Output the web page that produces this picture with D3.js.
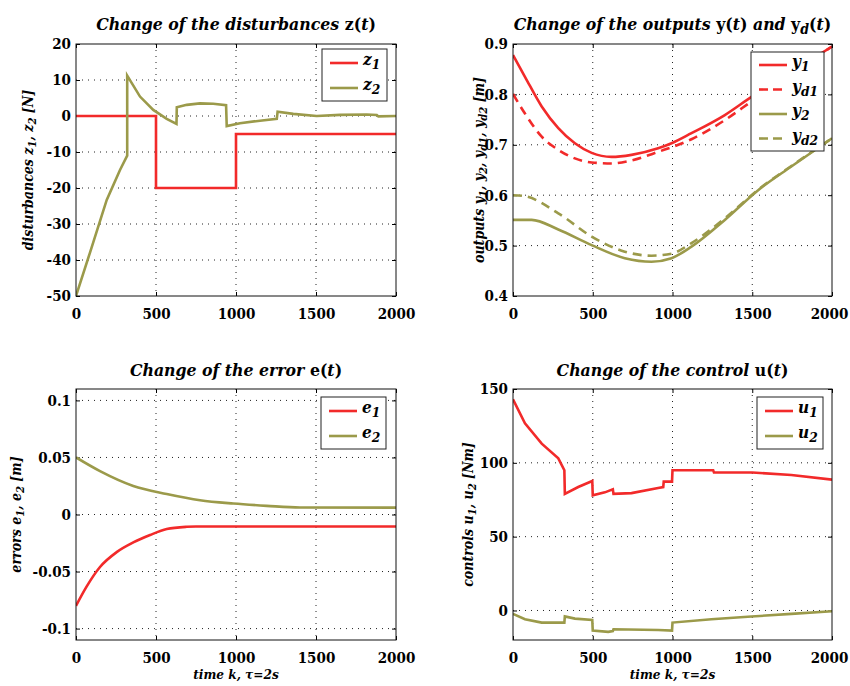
<!DOCTYPE html>
<html>
<head>
<meta charset="utf-8">
<script src="https://cdn.jsdelivr.net/npm/d3@7"></script>
<style>
  body { margin: 0; background: #fff; }
  svg { display: block; }
  svg text { fill: #000; }
  .tick-lbl { font-size: 15px; font-weight: bold; }
  .title { font-size: 17.5px; font-style: italic; font-weight: bold; }
  .ylab { font-size: 14px; font-style: italic; font-weight: bold; }
  .xlab { font-size: 13.5px; font-style: italic; font-weight: bold; }
  .leg { font-size: 17px; font-style: italic; font-weight: bold; }
</style>
</head>
<body>
<div id="chart"></div>
<script>
// data, [k, value]
const kTicks = [0, 500, 1000, 1500, 2000];

const z1 = [[0, 0], [500, 0], [500, -20], [1000, -20], [1000, -5], [2000, -5]];
const z2 = [[0, -50], [87, -38], [192, -23.3], [275, -15], [320, -11], [320, 11.2],
  [400, 5.4], [483, 1.7], [567, -0.8], [628, -2.2], [630, 2.4], [692, 3.1], [775, 3.5],
  [858, 3.4], [938, 3], [942, -2.8], [1025, -2], [1150, -1.3], [1255, -0.8], [1260, 1.2],
  [1358, 0.6], [1504, 0], [1650, 0.3], [1817, 0.4], [1880, 0.3], [1890, -0.1], [2000, 0]];

const y1 = [[0, 0.878], [75, 0.835], [180, 0.776], [284, 0.733], [388, 0.703], [493, 0.684],
  [618, 0.676], [743, 0.68], [910, 0.693], [994, 0.703], [1119, 0.723], [1328, 0.759],
  [1495, 0.795], [1750, 0.845], [2000, 0.895]];
const yd1 = [[0, 0.801], [75, 0.762], [180, 0.716], [284, 0.69], [388, 0.673], [493, 0.665],
  [618, 0.663], [743, 0.669], [910, 0.686], [1119, 0.711], [1328, 0.749], [1495, 0.786],
  [1750, 0.842], [2000, 0.895]];
const y2 = [[0, 0.551], [117, 0.551], [284, 0.532], [493, 0.501], [701, 0.475], [868, 0.468],
  [994, 0.475], [1119, 0.498], [1328, 0.551], [1537, 0.61], [1745, 0.657], [2000, 0.713]];
const yd2 = [[0, 0.6], [75, 0.598], [284, 0.564], [493, 0.518], [701, 0.488], [868, 0.48],
  [994, 0.484], [1119, 0.505], [1328, 0.554], [1537, 0.611], [1745, 0.658], [2000, 0.713]];

const e1 = [[0, -0.08], [67, -0.063], [150, -0.046], [254, -0.033], [358, -0.0245],
  [463, -0.018], [567, -0.0128], [692, -0.0108], [750, -0.0105], [2000, -0.0105]];
const e2 = [[0, 0.05], [150, 0.038], [358, 0.025], [567, 0.018], [775, 0.0125],
  [983, 0.0096], [1192, 0.0076], [1400, 0.0061], [2000, 0.006]];

const u1 = [[0, 143], [75, 126.8], [180, 113], [284, 103], [322, 95], [325, 79],
  [409, 83.6], [497, 87.7], [500, 78], [576, 80], [626, 82], [630, 79], [743, 79.5],
  [910, 83], [942, 83.6], [945, 87.3], [997, 87.3], [1000, 95], [1255, 95], [1260, 93.4],
  [1500, 93.4], [1745, 91.8], [2000, 88.6]];
const u2 = [[0, -2.3], [75, -5.9], [180, -8.2], [322, -8.2], [325, -4], [388, -5.5],
  [497, -6.4], [500, -13.6], [597, -14.5], [626, -14], [630, -12.7], [910, -13.2],
  [997, -13.6], [1000, -8.2], [1244, -5.9], [1495, -4.1], [1745, -2.3], [2000, -0.5]];

const zTicks = [-50, -40, -30, -20, -10, 0, 10, 20];
const yTicks = [0.4, 0.5, 0.6, 0.7, 0.8, 0.9];
const eTicks = [-0.1, -0.05, 0, 0.05, 0.1];
const uTicks = [0, 50, 100, 150];

const RED = "#f22a2a";
const OLIVE = "#9b9a4a";
const SERIF = "DejaVu Serif Condensed, DejaVu Serif, serif";

const svg = d3.select("#chart").append("svg")
  .attr("width", 850).attr("height", 686);

// text with subscripts: parts are [text, isSub, upright]
function richText(sel, parts) {
  parts.forEach(([t, sub, up]) => {
    const ts = sel.append("tspan").text(t);
    if (sub) ts.attr("baseline-shift", "-30%").attr("font-size", "80%");
    if (up) ts.style("font-style", "normal");
  });
  return sel;
}

// plain hyphen for negatives, like the original
const plain = d => String(d);

function drawPanel(p) {
  const x = d3.scaleLinear().domain([0, 2000]).range([p.left, p.right]);
  const y = d3.scaleLinear().domain(p.yDomain).range([p.bottom, p.top]);
  const g = svg.append("g").style("font-family", SERIF);

  // grid
  g.selectAll(".gx").data(kTicks.slice(1, -1)).enter().append("line")
    .attr("x1", d => x(d)).attr("x2", d => x(d))
    .attr("y1", p.top).attr("y2", p.bottom)
    .attr("stroke", "#222").attr("stroke-width", 1).attr("stroke-dasharray", "1,5");
  g.selectAll(".gy").data(p.yTicks.filter(d => y(d) > p.top + 1 && y(d) < p.bottom - 1))
    .enter().append("line")
    .attr("x1", p.left).attr("x2", p.right)
    .attr("y1", d => y(d)).attr("y2", d => y(d))
    .attr("stroke", "#222").attr("stroke-width", 1).attr("stroke-dasharray", "1,5");

  // axes with inward ticks
  g.append("g").attr("transform", `translate(0,${p.bottom})`)
    .call(d3.axisBottom(x).tickValues(kTicks).tickFormat(plain)
      .tickSizeInner(-4).tickSizeOuter(0).tickPadding(9))
    .call(a => a.attr("font-family", null).select(".domain").remove())
    .call(a => a.selectAll("text").attr("class", "tick-lbl").attr("dy", "0.9em")
      .attr("dx", d => (d === 2000 && p.right > 800) ? -3 : 0));
  g.append("g").attr("transform", `translate(${p.left},0)`)
    .call(d3.axisLeft(y).tickValues(p.yTicks).tickFormat(p.fmt || plain)
      .tickSizeInner(-4).tickSizeOuter(0).tickPadding(5))
    .call(a => a.attr("font-family", null).select(".domain").remove())
    .call(a => a.selectAll("text").attr("class", "tick-lbl"));
  g.append("g").attr("transform", `translate(${p.right},0)`)
    .call(d3.axisRight(y).tickValues(p.yTicks).tickSize(-4).tickFormat(""))
    .call(a => a.select(".domain").remove());
  g.append("g").attr("transform", `translate(0,${p.top})`)
    .call(d3.axisTop(x).tickValues(kTicks).tickSize(-4).tickFormat(""))
    .call(a => a.select(".domain").remove());

  // clip
  const cid = "clip" + p.id;
  svg.append("clipPath").attr("id", cid).append("rect")
    .attr("x", p.left).attr("y", p.top)
    .attr("width", p.right - p.left).attr("height", p.bottom - p.top);

  const line = d3.line().x(d => x(d[0])).y(d => y(d[1]));
  p.series.forEach(s => {
    g.append("path").datum(s.data)
      .attr("clip-path", `url(#${cid})`)
      .attr("d", s.curve ? line.curve(d3.curveMonotoneX)(s.data) : line.curve(d3.curveLinear)(s.data))
      .attr("fill", "none").attr("stroke", s.color).attr("stroke-width", 2.6)
      .attr("stroke-dasharray", s.dash ? "9,6" : null);
  });

  // frame
  g.append("rect").attr("x", p.left).attr("y", p.top)
    .attr("width", p.right - p.left).attr("height", p.bottom - p.top)
    .attr("fill", "none").attr("stroke", "#111").attr("stroke-width", 1);

  // title
  richText(g.append("text").attr("class", "title")
    .attr("x", (p.left + p.right) / 2).attr("y", p.top - p.titleGap)
    .attr("text-anchor", "middle"), p.title);

  // y label
  richText(g.append("text").attr("class", "ylab")
    .attr("transform", `translate(${p.ylabX},${(p.top + p.bottom) / 2}) rotate(-90)`)
    .attr("text-anchor", "middle"), p.ylab);

  if (p.xlab) {
    richText(g.append("text").attr("class", "xlab")
      .attr("x", (p.left + p.right) / 2).attr("y", p.bottom + 39)
      .attr("text-anchor", "middle"), p.xlab);
  }

  // legend
  const L = p.legend;
  g.append("rect").attr("x", L.x).attr("y", L.y).attr("width", L.w)
    .attr("height", L.h).attr("fill", "#fff").attr("stroke", "#222").attr("stroke-width", 1);
  p.series.forEach((s, i) => {
    const ry = L.y + L.row0 + i * L.step;
    g.append("line").attr("x1", L.x + 8).attr("x2", L.x + 36)
      .attr("y1", ry).attr("y2", ry).attr("stroke", s.color).attr("stroke-width", 2.6)
      .attr("stroke-dasharray", s.dash ? "9,5" : null);
    richText(g.append("text").attr("class", "leg")
      .attr("x", L.x + 41).attr("y", ry + 2), s.label);
  });
}

drawPanel({
  id: 1, left: 76, right: 396, top: 44, bottom: 296, yDomain: [-50, 20], yTicks: zTicks,
  titleGap: 14,
  title: [["Change of the disturbances "], ["z", false, true], ["(", false, true], ["t"], [")", false, true]],
  ylab: [["disturbances z"], ["1", true], [", z"], ["2", true], [" [N]"]], ylabX: 33,
  series: [
    {data: z1, color: RED, label: [["z"], ["1", true]]},
    {data: z2, color: OLIVE, label: [["z"], ["2", true]]}
  ],
  legend: {x: 322, y: 49, w: 65, h: 52, row0: 14, step: 25}
});

drawPanel({
  id: 2, left: 513, right: 832, top: 44, bottom: 296, yDomain: [0.4, 0.9], yTicks: yTicks,
  titleGap: 14, fmt: d3.format(".1f"),
  title: [["Change of the outputs "], ["y", false, true], ["(", false, true], ["t"], [")", false, true],
    [" and "], ["y", false, true], ["d", true], ["(", false, true], ["t"], [")", false, true]],
  ylab: [["outputs y"], ["1", true], [", y"], ["2", true], [", y"], ["d1", true], [", y"], ["d2", true], [" [m]"]],
  ylabX: 484,
  series: [
    {data: y1, color: RED, curve: true, label: [["y"], ["1", true]]},
    {data: yd1, color: RED, curve: true, dash: true, label: [["y"], ["d1", true]]},
    {data: y2, color: OLIVE, curve: true, label: [["y"], ["2", true]]},
    {data: yd2, color: OLIVE, curve: true, dash: true, label: [["y"], ["d2", true]]}
  ],
  legend: {x: 751, y: 52, w: 73, h: 99, row0: 13, step: 24.5}
});

drawPanel({
  id: 3, left: 76, right: 396, top: 389, bottom: 640, yDomain: [-0.11, 0.11], yTicks: eTicks,
  titleGap: 13,
  title: [["Change of the error "], ["e", false, true], ["(", false, true], ["t"], [")", false, true]],
  ylab: [["errors e"], ["1", true], [", e"], ["2", true], [" [m]"]], ylabX: 21,
  xlab: [["time k,  τ=2s"]],
  series: [
    {data: e1, color: RED, curve: true, label: [["e"], ["1", true]]},
    {data: e2, color: OLIVE, curve: true, label: [["e"], ["2", true]]}
  ],
  legend: {x: 321, y: 397, w: 65, h: 52, row0: 14, step: 25}
});

drawPanel({
  id: 4, left: 513, right: 832, top: 389, bottom: 640, yDomain: [-20, 150], yTicks: uTicks,
  titleGap: 13,
  title: [["Change of the control "], ["u", false, true], ["(", false, true], ["t"], [")", false, true]],
  ylab: [["controls u"], ["1", true], [", u"], ["2", true], [" [Nm]"]], ylabX: 473,
  xlab: [["time k,  τ=2s"]],
  series: [
    {data: u1, color: RED, label: [["u"], ["1", true]]},
    {data: u2, color: OLIVE, label: [["u"], ["2", true]]}
  ],
  legend: {x: 757, y: 397, w: 66, h: 52, row0: 14, step: 25}
});
</script>
</body>
</html>
